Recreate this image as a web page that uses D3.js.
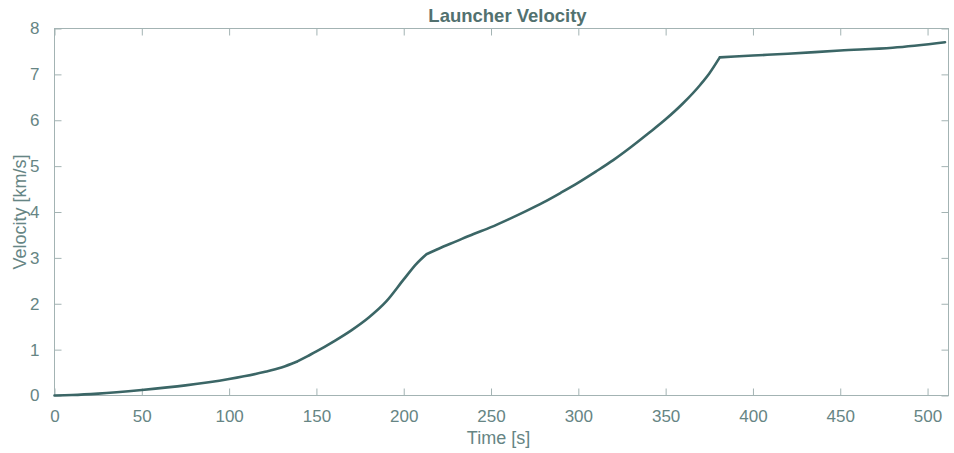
<!DOCTYPE html>
<html>
<head>
<meta charset="utf-8">
<script src="https://cdn.jsdelivr.net/npm/d3@7/dist/d3.min.js"></script>
<style>
  html, body { margin: 0; padding: 0; background: #fff; }
  svg text { font-family: "Liberation Sans", Arial, Helvetica, sans-serif; }
</style>
</head>
<body>
<svg id="chart" width="954" height="453"></svg>
<script>
// Launcher velocity profile (time in s, velocity in km/s)
const timeS = [0, 10, 25, 50, 75, 100, 120, 130, 139,
  145, 150, 160, 170, 180, 190, 200, 207, 213,
  220, 230, 240, 250, 260, 270, 280, 290, 300, 310, 320, 330, 340, 350, 360, 370, 375, 381,
  400, 420, 450, 480, 510];
const velocityKms = [0, 0.01, 0.04, 0.12, 0.22, 0.36, 0.51, 0.61, 0.74,
  0.86, 0.96, 1.18, 1.42, 1.70, 2.05, 2.53, 2.86, 3.08,
  3.20, 3.36, 3.52, 3.67, 3.84, 4.02, 4.21, 4.42, 4.64, 4.88, 5.13, 5.41, 5.71, 6.02, 6.37, 6.78, 7.02, 7.37,
  7.41, 7.45, 7.52, 7.58, 7.70];
// Stage transitions (s) where the acceleration changes abruptly
const stageBreaks = [139, 213, 381];
const xTicks = [0, 50, 100, 150, 200, 250, 300, 350, 400, 450, 500];
const yTicks = [0, 1, 2, 3, 4, 5, 6, 7, 8];

const svg = d3.select("#chart");
const plotLeft = 54.5, plotRight = 948.5, plotTop = 28.5, plotBottom = 395.5;

const x = d3.scaleLinear().domain([0, 512]).range([plotLeft, plotRight]);
const y = d3.scaleLinear().domain([0, 8]).range([plotBottom, plotTop]);

const axisColor = "#a3b3b3";
const textColor = "#668584";

// Box outline
svg.append("rect")
  .attr("x", plotLeft).attr("y", plotTop)
  .attr("width", plotRight - plotLeft).attr("height", plotBottom - plotTop)
  .attr("fill", "none").attr("stroke", axisColor).attr("stroke-width", 1);

function styleAxis(g) {
  g.select(".domain").remove();
  g.selectAll(".tick line").attr("stroke", axisColor);
  g.selectAll(".tick text").attr("fill", textColor).style("font-size", "17px");
}

// Bottom and left axes with inward ticks
svg.append("g").attr("transform", `translate(0,${plotBottom})`)
  .call(d3.axisBottom(x).tickValues(xTicks).tickSize(-7).tickPadding(14))
  .call(styleAxis);
svg.append("g").attr("transform", `translate(${plotLeft},0)`)
  .call(d3.axisLeft(y).tickValues(yTicks).tickSize(-7).tickPadding(15))
  .call(styleAxis);

// Mirrored ticks on top and right
svg.append("g").attr("transform", `translate(0,${plotTop})`)
  .call(d3.axisTop(x).tickValues(xTicks).tickSize(-7).tickFormat(""))
  .call(styleAxis);
svg.append("g").attr("transform", `translate(${plotRight},0)`)
  .call(d3.axisRight(y).tickValues(yTicks).tickSize(-7).tickFormat(""))
  .call(styleAxis);

// Velocity curve: smooth within each stage, sharp corners at stage transitions
const points = timeS.map((t, i) => [t, velocityKms[i]]);
const bounds = [0, ...stageBreaks, Infinity];
const segments = [];
for (let s = 0; s < bounds.length - 1; s++) {
  segments.push(points.filter(p => p[0] >= bounds[s] && p[0] <= bounds[s + 1]));
}
const line = d3.line()
  .x(d => x(d[0]))
  .y(d => y(d[1]))
  .curve(d3.curveMonotoneX);

svg.append("path")
  .attr("d", segments.map(seg => line(seg)).join(""))
  .attr("fill", "none")
  .attr("stroke", "#3b6666")
  .attr("stroke-width", 2.6)
  .attr("stroke-linejoin", "round")
  .attr("stroke-linecap", "round");

// Title and axis labels
svg.append("text")
  .attr("x", (plotLeft + plotRight) / 2 + 6).attr("y", 22)
  .attr("text-anchor", "middle")
  .attr("fill", "#52716f")
  .style("font-size", "18.5px").style("font-weight", "bold")
  .text("Launcher Velocity");

svg.append("text")
  .attr("x", (plotLeft + plotRight) / 2 - 3).attr("y", 444)
  .attr("text-anchor", "middle")
  .attr("fill", textColor)
  .style("font-size", "18px")
  .text("Time [s]");

svg.append("text")
  .attr("transform", `translate(26,${(plotTop + plotBottom) / 2}) rotate(-90)`)
  .attr("text-anchor", "middle")
  .attr("fill", textColor)
  .style("font-size", "18px")
  .text("Velocity [km/s]");
</script>
</body>
</html>
